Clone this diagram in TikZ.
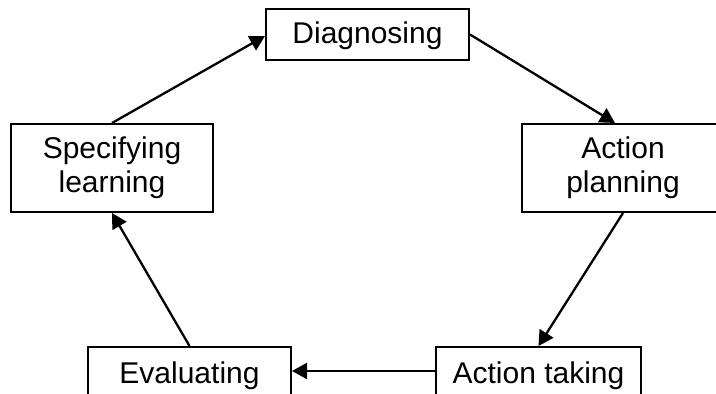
\documentclass[tikz,border=0pt]{standalone}
\usepackage{fontspec}
\setmainfont{Liberation Sans}
\usetikzlibrary{arrows.meta,calc}
\begin{document}
\begin{tikzpicture}[x=0.5pt,y=-0.5pt,
  box/.style={draw=black,line width=1pt,minimum width=101pt,inner sep=0pt,
    align=center,font=\fontsize{15}{17}\selectfont},
  conn/.style={line width=1.15pt,-{Triangle[length=7.5pt,width=8pt]}}]
\useasboundingbox (0,0) rectangle (716,394);
\clip (0,0) rectangle (716,394);
\node[box,minimum height=25.5pt,minimum width=101.5pt,text depth=2.3pt,text height=11.8pt] (dg) at (367.5,34.5) {Diagnosing};
\node[box,minimum height=44pt] (ap) at (623,168) {Action\\planning};
\node[box,minimum height=44pt] (sl) at (112,168) {Specifying\\learning};
\node[box,minimum height=29pt,minimum width=101.5pt] (ev) at (189.5,376) {Evaluating};
\node[box,minimum height=29pt,minimum width=102.5pt] (at) at (538.5,376) {Action taking};
\draw[conn] (dg.east) -- ($(ap.north)+(-8,0)$);
\draw[conn] (ap.south) -- (at.north);
\draw[conn] ($(at.north west)+(0,25)$) -- ($(ev.north east)+(0,25)$);
\draw[conn] (ev.north) -- (sl.south);
\draw[conn] (sl.north) -- ($(dg.west)+(0,1.5)$);
\end{tikzpicture}
\end{document}
